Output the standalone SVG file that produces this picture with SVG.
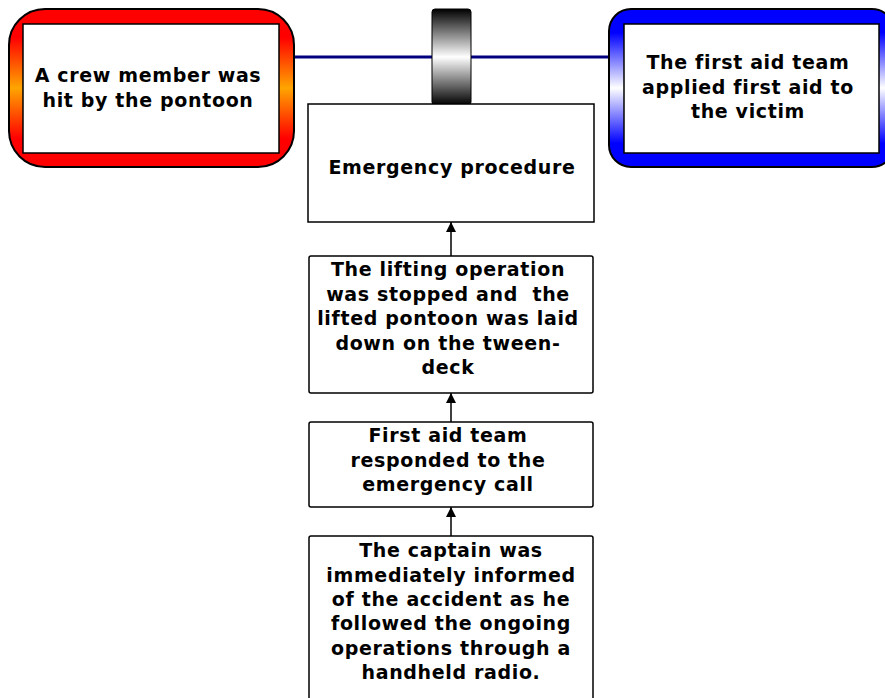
<svg xmlns="http://www.w3.org/2000/svg" width="885" height="698" viewBox="0 0 885 698">
<style>
text{font-family:"DejaVu Sans","Verdana",sans-serif;font-weight:bold;font-size:19px;letter-spacing:0.65px;fill:#000;text-anchor:middle;white-space:pre}
.box{fill:#fff;stroke:#000;stroke-width:1.5}
.inner{fill:#fff;stroke:#000;stroke-width:1.5}
.conn{stroke:#000;stroke-width:1.5;fill:none}
</style>
<defs>
<linearGradient id="gRed" x1="0" y1="0" x2="0" y2="1">
<stop offset="0" stop-color="#ff0000"/><stop offset="0.18" stop-color="#ff0000"/><stop offset="0.5" stop-color="#ffa500"/><stop offset="0.82" stop-color="#ff0000"/><stop offset="1" stop-color="#ff0000"/>
</linearGradient>
<linearGradient id="gBlue" x1="0" y1="0" x2="0" y2="1">
<stop offset="0" stop-color="#0000ff"/><stop offset="0.15" stop-color="#0000ff"/><stop offset="0.5" stop-color="#ffffff"/><stop offset="0.85" stop-color="#0000ff"/><stop offset="1" stop-color="#0000ff"/>
</linearGradient>
<linearGradient id="gBar" x1="0" y1="0" x2="0" y2="1">
<stop offset="0" stop-color="#000"/><stop offset="0.5" stop-color="#fff"/><stop offset="1" stop-color="#000"/>
</linearGradient>
<marker id="arr" viewBox="0 0 10 10" refX="10" refY="5" markerWidth="10" markerHeight="10" markerUnits="userSpaceOnUse" orient="auto">
<path d="M0,0 L10,5 L0,10 z" fill="#000"/>
</marker>
</defs>
<g id="connectors">
<line x1="294" y1="57" x2="610" y2="57" stroke="#000080" stroke-width="3"/>
<line class="conn" x1="451" y1="256" x2="451" y2="222" marker-end="url(#arr)"/>
<line class="conn" x1="451" y1="422" x2="451" y2="393" marker-end="url(#arr)"/>
<line class="conn" x1="451" y1="536" x2="451" y2="507" marker-end="url(#arr)"/>
</g>
<g id="barrier">
<rect x="432" y="9" width="39" height="96" rx="3" fill="url(#gBar)" stroke="#000" stroke-width="1"/>
</g>
<g id="n_hit">
<rect x="9" y="9" width="285" height="158" rx="36" fill="url(#gRed)" stroke="#000" stroke-width="2"/>
<rect class="inner" x="23" y="24" width="256" height="129"/>
<text x="148" y="82">A crew member was</text>
<text x="148" y="107">hit by the pontoon</text>
</g>
<g id="n_firstaid">
<rect x="609" y="9" width="285" height="158" rx="22" fill="url(#gBlue)" stroke="#000" stroke-width="2"/>
<rect class="inner" x="624" y="24" width="255" height="129"/>
<text x="748" y="69">The first aid team</text>
<text x="748" y="94">applied first aid to</text>
<text x="748" y="118">the victim</text>
</g>
<g id="n_emergency">
<rect class="box" x="308" y="104" width="286" height="118"/>
<text x="452" y="174">Emergency procedure</text>
</g>
<g id="n_lifting">
<rect class="box" x="309" y="256" width="284" height="137" rx="2"/>
<text x="448" y="276">The lifting operation</text>
<text x="448" y="301">was stopped and  the</text>
<text x="448" y="325">lifted pontoon was laid</text>
<text x="448" y="350">down on the tween-</text>
<text x="448" y="374">deck</text>
</g>
<g id="n_responded">
<rect class="box" x="309" y="422" width="284" height="85" rx="2"/>
<text x="448" y="442">First aid team</text>
<text x="448" y="467">responded to the</text>
<text x="448" y="491">emergency call</text>
</g>
<g id="n_captain">
<rect class="box" x="309" y="536" width="284" height="170" rx="2"/>
<text x="451" y="557">The captain was</text>
<text x="451" y="582">immediately informed</text>
<text x="451" y="606">of the accident as he</text>
<text x="451" y="630">followed the ongoing</text>
<text x="451" y="655">operations through a</text>
<text x="451" y="679">handheld radio.</text>
</g>
</svg>
